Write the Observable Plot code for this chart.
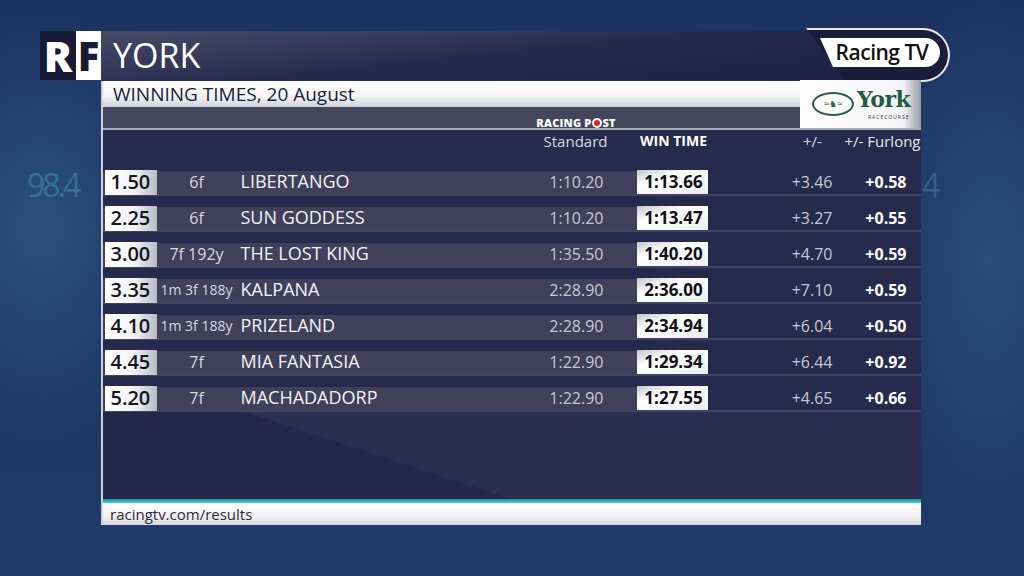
<!DOCTYPE html>
<html><head><meta charset="utf-8">
<script src="https://cdn.jsdelivr.net/npm/d3@7"></script>
<script src="https://cdn.jsdelivr.net/npm/@observablehq/plot@0.6"></script>
<style>
body{margin:0;background:#1b2f5c;}
#stage{position:relative;width:1024px;height:576px;overflow:hidden;font-family:"Open Sans",sans-serif;
 background:
  radial-gradient(ellipse 160px 220px at 40px 230px, rgba(60,120,170,0.45), transparent),
  radial-gradient(ellipse 140px 260px at 990px 260px, rgba(60,120,170,0.40), transparent),
  linear-gradient(180deg,#1d3363 0%,#1c305e 50%,#213c6c 100%);}
.abs{position:absolute;}
#deco1{left:27px;top:163px;font-size:32px;color:#4e9dbd;opacity:.45;letter-spacing:-3px;}
#deco2{left:922px;top:163px;font-size:32px;color:#4e9dbd;opacity:.35;}
#titleband{left:40px;top:31px;width:830px;height:49px;
 background:linear-gradient(174deg,#4a4c68 0%,#3a3c5c 28%,#272a4c 52%,#1e2144 100%);}
#logoR{left:40px;top:31px;width:36px;height:49px;background:#181a36;color:#fff;font-weight:800;font-size:42px;line-height:49px;text-align:center;}
#logoF{left:76px;top:31px;width:25px;height:49px;background:#fff;color:#181a36;font-weight:800;font-size:40px;line-height:49px;text-align:center;}
#york{left:113px;top:31px;height:49px;line-height:49px;font-size:34px;color:#fff;}
#pill{left:806px;top:28px;width:144px;height:54px;box-sizing:border-box;background:#1b1c3a;border:2px solid #e9e9ef;border-left:none;border-radius:0 27px 27px 0;clip-path:polygon(0 0,100% 0,100% 100%,40px 100%);}
#pillIn{left:820px;top:38px;width:120px;height:29px;background:#fff;border-radius:0 15px 15px 0;clip-path:polygon(0 0,100% 0,100% 100%,13px 100%);color:#111;font-weight:600;font-size:21px;line-height:29px;text-align:center;letter-spacing:-0.5px;padding-left:4px;box-sizing:border-box;}
#subtitle{left:103px;top:81px;width:697px;height:26px;line-height:26px;box-sizing:border-box;padding-left:10px;font-size:19px;color:#1b1d3a;
 background:linear-gradient(180deg,#ffffff 0%,#f3f3f5 60%,#cfd0d8 100%);}
#yorkbox{left:800px;top:80px;width:121px;height:48px;background:linear-gradient(90deg,#ffffff 0%,#f4f4f4 85%,#9a9aa8 100%);}
#ell{left:812px;top:92px;width:42px;height:24px;border:2px solid #2b5a4a;border-radius:50%;box-sizing:border-box;font-size:9px;line-height:20px;text-align:center;color:#2b5a4a;}
#yorkTxt{left:857px;top:86px;font-family:"DejaVu Serif",serif;font-weight:700;font-size:22px;color:#1f5c46;letter-spacing:-0.5px;}
#raceco{left:868px;top:114px;font-size:5px;letter-spacing:1px;color:#333;}
#grayband{left:103px;top:107px;width:697px;height:21px;background:#45465e;}
#headline{left:103px;top:128px;width:818px;height:2px;background:#a8a9bb;}
#rpost{left:535px;top:116px;width:82px;text-align:center;color:#fff;font-weight:800;font-size:11px;line-height:14px;letter-spacing:0.2px;}
#rpost .o{display:inline-block;width:6px;height:6px;border-radius:50%;background:#e3262d;border:2px solid #fff;vertical-align:-1px;margin:0 0.5px;}
#body{left:103px;top:130px;width:818px;height:370px;background:#24274a;}
#bodyLight{left:103px;top:130px;width:818px;height:370px;background:#2d2f50;clip-path:polygon(0 0,100% 0,100% 100%,410px 100%,0 235px);}
#bodyTop{left:103px;top:130px;width:818px;height:282px;background:#262a4c;}
#leftedge{left:101px;top:81px;width:2px;height:444px;background:#cfd0da;}
#teal{left:103px;top:499px;width:818px;height:4px;background:linear-gradient(180deg,#1f8d98,#45d3d6);}
#footer{left:103px;top:503px;width:818px;height:22px;line-height:22px;box-sizing:border-box;padding-left:7px;font-size:15px;color:#2c2c38;
 background:linear-gradient(180deg,#ffffff 0%,#f1f1f3 60%,#d5d6dc 100%);}
#chart{left:103px;top:130px;width:818px;height:370px;}
#chart svg{background:transparent;}
rect[fill="url(#raceGrad)"]{clip-path:polygon(0 0,100% 0,100% 70%,92% 100%,0 100%);}
rect[fill="url(#winGrad)"]{clip-path:polygon(0 0,100% 0,100% 100%,8% 100%,0 72%);}
</style></head><body>
<div id="stage">
 <div class="abs" id="deco1">98.4</div>
 <div class="abs" id="deco2">4</div>
 <div class="abs" id="titleband"></div>
 <div class="abs" id="logoR">R</div>
 <div class="abs" id="logoF">F</div>
 <div class="abs" id="york">YORK</div>
 <div class="abs" id="pill"></div>
 <div class="abs" id="pillIn">Racing TV</div>
 <div class="abs" id="subtitle">WINNING TIMES, 20 August</div>
 <div class="abs" id="grayband"></div>
 <div class="abs" id="yorkbox"></div>
 <div class="abs" id="ell">≈♞≈</div>
 <div class="abs" id="yorkTxt">York</div>
 <div class="abs" id="raceco">RACECOURSE</div>
 <div class="abs" id="rpost">RACING P<span class="o"></span>ST</div>
 <div class="abs" id="body"></div>
 <div class="abs" id="bodyLight"></div>
 <div class="abs" id="bodyTop"></div>
 <div class="abs" id="headline"></div>
 <div class="abs" id="leftedge"></div>
 <div class="abs" id="teal"></div>
 <div class="abs" id="footer">racingtv.com/results</div>
 <div class="abs" id="chart"></div>
</div>
<script>
// ---- data ----
const raceTimes = ["1.50","2.25","3.00","3.35","4.10","4.45","5.20"];
const distances = ["6f","6f","7f 192y","1m 3f 188y","1m 3f 188y","7f","7f"];
const horses = ["LIBERTANGO","SUN GODDESS","THE LOST KING","KALPANA","PRIZELAND","MIA FANTASIA","MACHADADORP"];
const standardTimes = ["1:10.20","1:10.20","1:35.50","2:28.90","2:28.90","1:22.90","1:22.90"];
const winTimes = ["1:13.66","1:13.47","1:40.20","2:36.00","2:34.94","1:29.34","1:27.55"];
const diffs = [3.46, 3.27, 4.70, 7.10, 6.04, 6.44, 4.65];
const perFurlong = [0.58, 0.55, 0.59, 0.59, 0.50, 0.92, 0.66];
const columnHeaders = ["Standard","WIN TIME","+/-","+/- Furlong"];

// ---- layout (pixels within the table body) ----
const W = 818, H = 370;
const col = {raceX1:2, raceX2:54, raceText:7, dist:93, horse:137, bandEnd:534, std:500,
  win1:534, win2:605, winC:570, diff:729, perF:803};
const headerX = [472, 570, 709, 779];

const rows = raceTimes.map((t,i)=>({time:t, dist:distances[i], horse:horses[i], std:standardTimes[i],
  win:winTimes[i], diff:diffs[i], perF:perFurlong[i]}));
const headers = columnHeaders.map((h,i)=>({label:h, x:headerX[i]}));
const fmt = d3.format("+.2f");

function defs(){
  const ns="http://www.w3.org/2000/svg";
  const d=document.createElementNS(ns,"defs");
  d.innerHTML = `<linearGradient id="raceGrad" x1="0" x2="1" y1="0" y2="0">
    <stop offset="0" stop-color="#ffffff"/><stop offset="0.55" stop-color="#f4f4f6"/><stop offset="1" stop-color="#b9b9c4"/></linearGradient>
    <linearGradient id="winGrad" x1="0" x2="1" y1="0" y2="1">
    <stop offset="0" stop-color="#c5c5cd"/><stop offset="0.35" stop-color="#ffffff"/><stop offset="1" stop-color="#ededf0"/></linearGradient>`;
  return d;
}

const font = "Open Sans";
const hdrDy = -28;
const chart = Plot.plot({
  width: W, height: H,
  marginLeft: 0, marginRight: 0, marginTop: 34, marginBottom: 84,
  x: {type:"linear", domain:[0, W], range:[0, W], axis:null},
  y: {type:"band", domain: raceTimes, padding:0, axis:null},
  style: {fontFamily: font, background:"transparent", overflow:"visible"},
  marks: [
    defs,
    // row band (lighter left part)
    Plot.barX(rows, {y:"time", x1:0, x2:col.bandEnd, fill:"#413f59", insetTop:7, insetBottom:6}),
    // separator line under each row
    Plot.barX(rows, {y:"time", x1:0, x2:W, fill:"#5c5d7a", insetTop:30.5, insetBottom:4.5}),
    // race time boxes
    Plot.barX(rows, {y:"time", x1:col.raceX1, x2:col.raceX2, fill:"url(#raceGrad)", insetTop:6, insetBottom:5}),
    Plot.text(rows, {y:"time", x:col.raceText, text:"time", textAnchor:"start", fill:"#15151c",
      fontSize:20, fontWeight:600, fontFamily:font}),
    // distance
    Plot.text(rows, {y:"time", x:col.dist, text:"dist", fill:"#d8d8e4",
      fontSize: d => d.dist.length > 8 ? 14 : 16, fontFamily:font, letterSpacing:-0.3}),
    // horse
    Plot.text(rows, {y:"time", x:col.horse, text:"horse", textAnchor:"start", fill:"#f4f4f8",
      fontSize:18, fontFamily:font}),
    // standard
    Plot.text(rows, {y:"time", x:col.std, text:"std", textAnchor:"end", fill:"#c6c7d6",
      fontSize:16, fontFamily:font}),
    // winning time box
    Plot.barX(rows, {y:"time", x1:col.win1, x2:col.win2, fill:"url(#winGrad)", insetTop:6, insetBottom:6}),
    Plot.text(rows, {y:"time", x:col.winC, text:"win", fill:"#111118",
      fontSize:17, fontWeight:700, fontFamily:font}),
    // +/-
    Plot.text(rows, {y:"time", x:col.diff, text:d=>fmt(d.diff), textAnchor:"end", fill:"#c6c7d6",
      fontSize:16, fontFamily:font}),
    // +/- furlong
    Plot.text(rows, {y:"time", x:col.perF, text:d=>fmt(d.perF), textAnchor:"end", fill:"#ffffff",
      fontSize:16, fontWeight:700, fontFamily:font}),
    // column headers
    Plot.text(headers.filter((d,i)=>i===0), {x:"x", text:"label", frameAnchor:"top", dy:hdrDy, fill:"#d6d7e2", fontSize:15, fontFamily:font}),
    Plot.text(headers.filter((d,i)=>i===1), {x:"x", text:"label", frameAnchor:"top", dy:hdrDy, fill:"#ffffff", fontSize:14, fontWeight:700, fontFamily:font, letterSpacing:-0.5}),
    Plot.text(headers.filter((d,i)=>i===2), {x:"x", text:"label", frameAnchor:"top", dy:hdrDy, fill:"#d6d7e2", fontSize:15, fontFamily:font}),
    Plot.text(headers.filter((d,i)=>i===3), {x:"x", text:"label", frameAnchor:"top", dy:hdrDy, fill:"#e6e7ef", fontSize:15, fontFamily:font})
  ]
});
document.getElementById("chart").appendChild(chart);
</script>
</body></html>
